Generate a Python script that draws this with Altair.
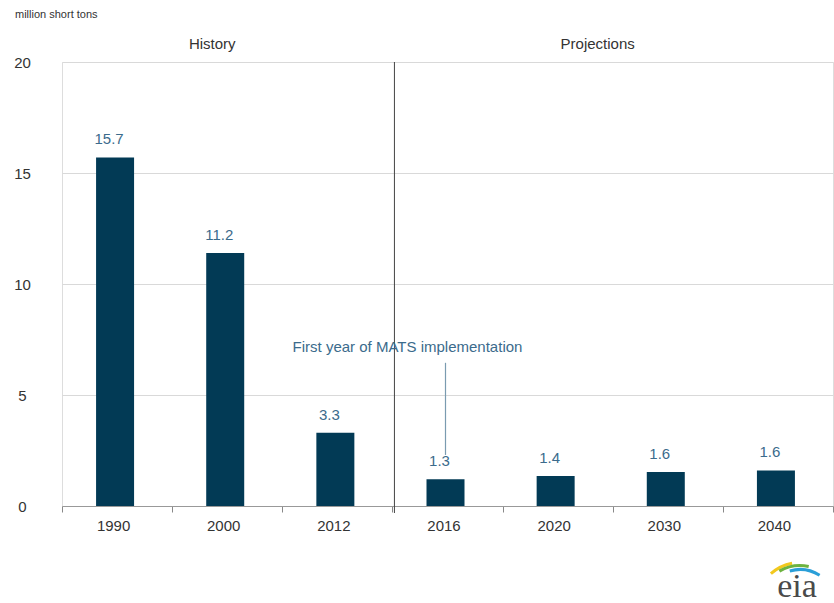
import altair as alt
import pandas as pd

years = ["1990", "2000", "2012", "2016", "2020", "2030", "2040"]
values = [15.7, 11.4, 3.3, 1.2, 1.35, 1.53, 1.6]
labels = ["15.7", "11.2", "3.3", "1.3", "1.4", "1.6", "1.6"]
y_ticks = [0, 5, 10, 15, 20]

df = pd.DataFrame({"year": years, "value": values, "label": labels})

BAR = "#023a55"
LAB = "#3b6b8c"
FONT = "Liberation Sans"

xscale = alt.Scale(domain=years, paddingInner=0, paddingOuter=0)
yscale = alt.Scale(domain=[0, 20])

base = alt.Chart(df)

bars = base.mark_bar(color=BAR, width=38, xOffset=-2).encode(
    x=alt.X("year:N", scale=xscale, sort=years,
            axis=alt.Axis(title=None, labelAngle=0, labelFontSize=15, labelColor="#333333",
                          labelFont=FONT, tickBand="extent", tickSize=6, tickColor="#888888",
                          domainColor="#999999", labelPadding=6, labelOffset=-4)),
    y=alt.Y("value:Q", scale=yscale,
            axis=alt.Axis(title=None, values=y_ticks, labelFontSize=15, labelColor="#333333",
                          labelFont=FONT, grid=True, gridColor="#d9d9d9", domain=False,
                          ticks=False, labelAlign="center", labelPadding=40)),
)

text = base.mark_text(color=LAB, fontSize=15, font=FONT, baseline="bottom", dy=-10, dx=-8).encode(
    x=alt.X("year:N", scale=xscale, sort=years),
    y=alt.Y("value:Q", scale=yscale),
    text="label:N",
)

div_df = pd.DataFrame({"year": ["2016"], "top": [20]})
divider = alt.Chart(div_df).mark_rule(color="#444444", strokeWidth=1, xOffset=2).encode(
    x=alt.X("year:N", scale=xscale, sort=years, bandPosition=0),
    y=alt.Y("top:Q", scale=yscale),
    y2=alt.value(451),
)

hist = alt.Chart(pd.DataFrame({"t": ["History"], "year": ["2000"]})).mark_text(
    fontSize=15, font=FONT, color="#333333", dx=-15).encode(
    x=alt.X("year:N", scale=xscale, sort=years), y=alt.value(-18), text="t:N")
proj = alt.Chart(pd.DataFrame({"t": ["Projections"], "year": ["2020"]})).mark_text(
    fontSize=15, font=FONT, color="#333333", dx=40).encode(
    x=alt.X("year:N", scale=xscale, sort=years), y=alt.value(-18), text="t:N")

unit = alt.Chart(pd.DataFrame({"t": ["million short tons"]})).mark_text(
    fontSize=11, font=FONT, color="#333333", align="left").encode(
    x=alt.value(-47), y=alt.value(-47), text="t:N")

ann_df = pd.DataFrame({"t": ["First year of MATS implementation"], "year": ["2016"], "v": [7.15],
                       "v1": [6.45], "v2": [2.3]})
ann_text = alt.Chart(ann_df).mark_text(fontSize=15, font=FONT, color=LAB, dx=-40).encode(
    x=alt.X("year:N", scale=xscale, sort=years), y=alt.Y("v:Q", scale=yscale), text="t:N")
ann_rule = alt.Chart(ann_df).mark_rule(color="#7a9bb0", strokeWidth=1.2, xOffset=-2).encode(
    x=alt.X("year:N", scale=xscale, sort=years), y=alt.Y("v1:Q", scale=yscale), y2="v2:Q")

logo_text = alt.Chart(pd.DataFrame({"t": ["eia"]})).mark_text(
    fontSize=34, font="Liberation Serif", color="#4a4a4a", baseline="middle").encode(
    x=alt.value(735), y=alt.value(525), text="t:N")

arcs_df = pd.DataFrame({
    "c": ["#f2c81e", "#6db33f", "#2a9fd8"],
    "t1": [5.55, 5.75, 6.0], "t2": [6.1, 6.5, 6.85],
    "r1": [42, 39, 35], "r2": [45, 42, 38],
})
logo_arcs = alt.Chart(arcs_df).mark_arc().encode(
    x=alt.value(738), y=alt.value(544),
    theta=alt.Theta("t1:Q", scale=None), theta2="t2:Q",
    radius=alt.Radius("r1:Q", scale=None), radius2="r2:Q",
    color=alt.Color("c:N", scale=None),
)

chart = alt.layer(bars, text, divider, hist, proj, unit, ann_text, ann_rule, logo_arcs, logo_text).properties(
    width=771, height=444,
    autosize=alt.AutoSizeParams(type="none"),
    padding={"left": 62, "top": 62, "right": 1, "bottom": 97},
).configure_view(stroke=None).configure(background="white")

chart.save("out.html", embed_options={"renderer": "svg", "actions": False})
